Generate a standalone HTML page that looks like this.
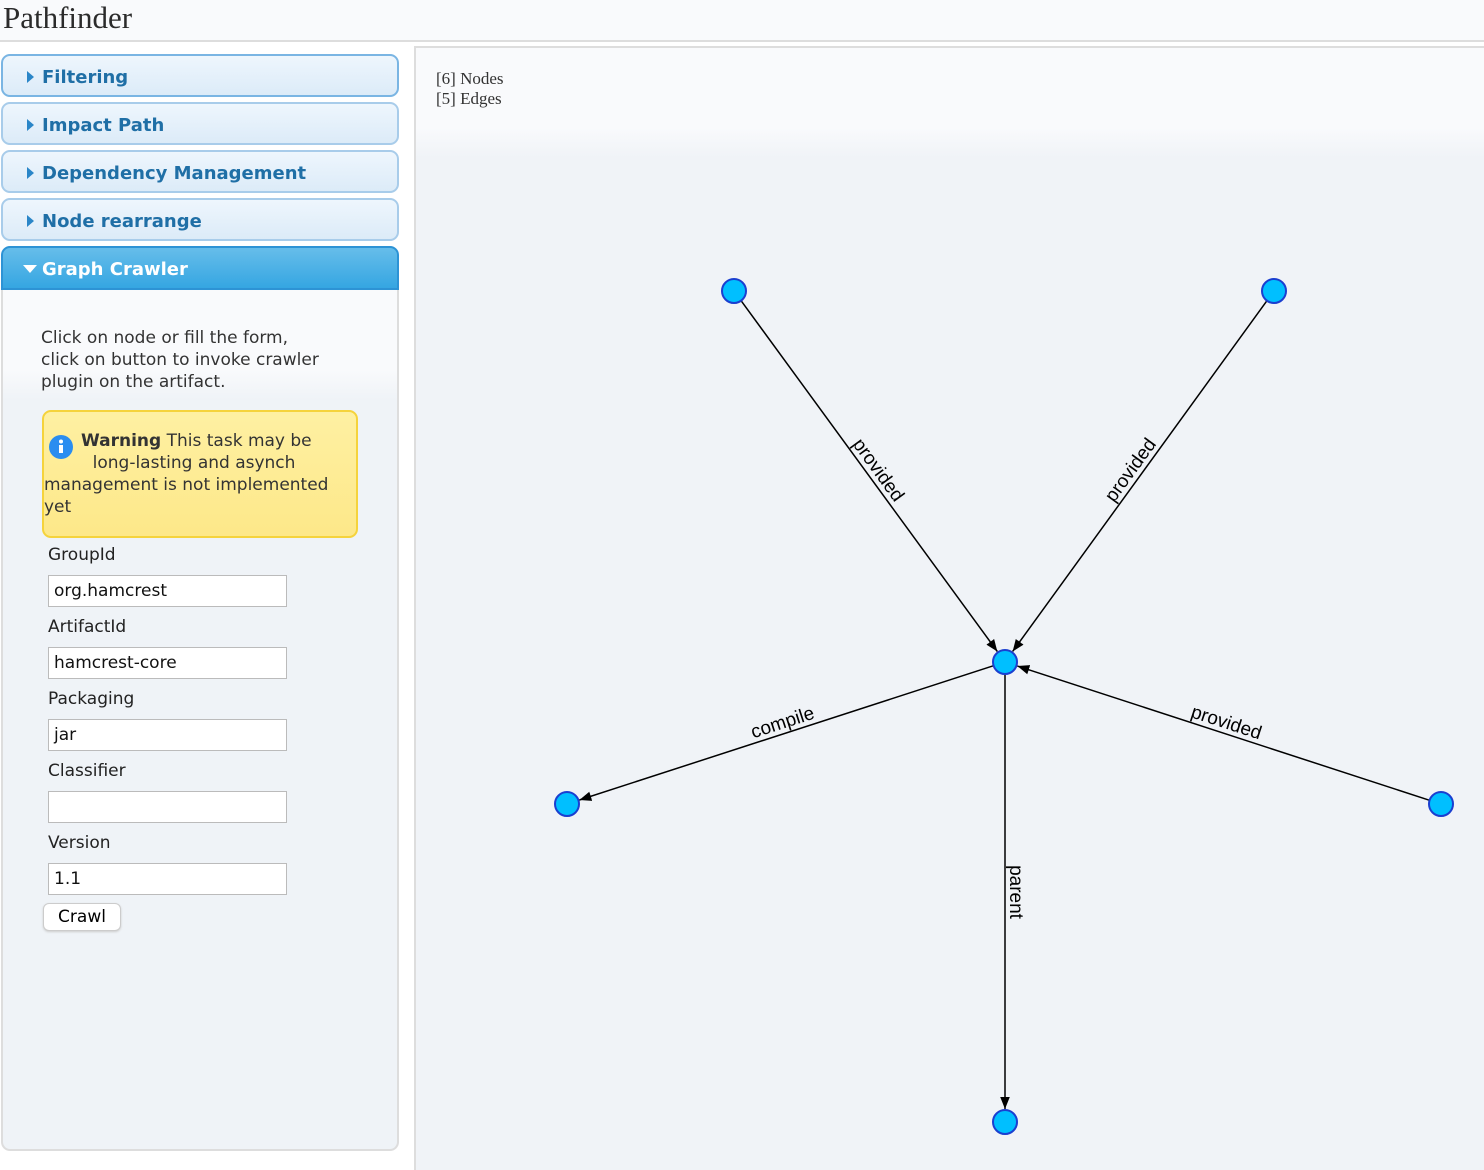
<!DOCTYPE html>
<html><head><meta charset="utf-8"><style>
body{margin:0;width:1484px;height:1170px;background:#fff;position:relative;overflow:hidden;font-family:"DejaVu Sans","Liberation Sans",sans-serif}
.abs{position:absolute}
#hdr{left:0;top:0;width:1484px;height:40px;background:#f9fafc;border-bottom:2px solid #ddd}
#title{left:3px;top:0;font:31px "Liberation Serif",serif;color:#2b2b2b;line-height:36px}
.acc{left:1px;width:398px;height:43px;border:2px solid #a8ccea;border-radius:9px;background:linear-gradient(#eef6fd,#dcebf8);box-sizing:border-box}
.acc span{position:absolute;left:39px;top:11px;font-weight:bold;font-size:18px;color:#1f6fa6}
.acc i{position:absolute;left:24px;top:15px;width:0;height:0;border-top:6px solid transparent;border-bottom:6px solid transparent;border-left:7px solid #2a86c8}
#f1{top:54px;border-color:#7ab5e3}
#gc{left:1px;top:246px;width:398px;height:44px;background:linear-gradient(#66bdea,#35a6e2);border:2px solid #2d93d5;border-radius:9px 9px 0 0;box-sizing:border-box}
#gc span{position:absolute;left:39px;top:11px;font-weight:bold;font-size:18px;color:#fff}
#gc i{position:absolute;left:20px;top:17px;border-left:7px solid transparent;border-right:7px solid transparent;border-top:8px solid #fff}
#panel{left:1px;top:290px;width:398px;height:861px;border:2px solid #ddd;border-top:none;border-radius:0 0 9px 9px;background:linear-gradient(#f9fafc 0,#f9fafc 80px,#eff3f7 110px,#eff3f7);box-sizing:border-box}
.t{font-size:17px;color:#333;line-height:22px}
#warn{left:42px;top:410px;width:316px;height:128px;border:2px solid #f5d33c;border-radius:9px;background:linear-gradient(#fef0a2,#fde889);box-sizing:border-box}
.lbl{left:48px;font-size:17px;color:#222}
.inp{left:48px;width:239px;height:32px;background:#fff;border:1px solid #bbb;box-sizing:border-box;font-size:17px;color:#111;padding:4px 5px;line-height:22px}
#crawl{left:43px;top:903px;width:78px;height:28px;border:1px solid #ccc;border-radius:6px;background:#fff;font-size:17px;text-align:center;line-height:26px;box-sizing:border-box;box-shadow:0 1px 2px #ccc}
#graph{left:414px;top:46px;width:1070px;height:1124px;border-left:2px solid #ddd;border-top:2px solid #ddd;background:linear-gradient(#f9fafc 0,#f9fafc 80px,#f0f3f7 110px,#f0f3f7);box-sizing:border-box}
#stats{left:436px;top:69px;font:17px "Liberation Serif",serif;color:#333;line-height:20px}
</style></head><body>
<div id="hdr" class="abs"></div>
<div id="title" class="abs">Pathfinder</div>
<div id="f1" class="abs acc"><i></i><span>Filtering</span></div>
<div class="abs acc" style="top:102px"><i></i><span>Impact Path</span></div>
<div class="abs acc" style="top:150px"><i></i><span>Dependency Management</span></div>
<div class="abs acc" style="top:198px"><i></i><span>Node rearrange</span></div>
<div id="gc" class="abs"><i></i><span>Graph Crawler</span></div>
<div id="panel" class="abs"></div>
<div class="abs t" style="left:41px;top:327px">Click on node or fill the form,<br>click on button to invoke crawler<br>plugin on the artifact.</div>
<div id="warn" class="abs">
<svg class="abs" style="left:4px;top:22px" width="26" height="26"><circle cx="13" cy="13" r="12" fill="#2a8df0"/><rect x="11" y="11" width="4" height="8" fill="#fff"/><circle cx="13" cy="7.5" r="2" fill="#fff"/></svg>
<div class="abs t" style="left:0;top:18px;width:310px;text-indent:37px"><b>Warning</b> This task may be<br>&nbsp;&nbsp;&nbsp;&nbsp;&nbsp;&nbsp;&nbsp;&nbsp;&nbsp;long-lasting and asynch</div>
<div class="abs t" style="left:0;top:62px">management is not implemented<br>yet</div>
</div>
<div class="abs lbl" style="top:545px">GroupId</div>
<div class="abs inp" style="top:575px">org.hamcrest</div>
<div class="abs lbl" style="top:617px">ArtifactId</div>
<div class="abs inp" style="top:647px">hamcrest-core</div>
<div class="abs lbl" style="top:689px">Packaging</div>
<div class="abs inp" style="top:719px">jar</div>
<div class="abs lbl" style="top:761px">Classifier</div>
<div class="abs inp" style="top:791px"></div>
<div class="abs lbl" style="top:833px">Version</div>
<div class="abs inp" style="top:863px">1.1</div>
<div id="crawl" class="abs">Crawl</div>
<div id="graph" class="abs"></div>
<div id="stats" class="abs">[6] Nodes<br>[5] Edges</div>
<svg id="g" class="abs" style="left:0;top:0" width="1484" height="1170">
<defs><marker id="ar" viewBox="0 0 10 10" refX="10" refY="5" markerWidth="8" markerHeight="8" orient="auto"><path d="M0,1L10,5L0,9z" fill="#000"/></marker></defs>
</svg>
<script>
const nodeNames=['center','top-left','top-right','left','right','bottom'];
const nodeX=[1005,734,1274,567,1441,1005];
const nodeY=[662,291,291,804,804,1122];
const edgeFrom=[1,2,0,4,0];
const edgeTo=[0,0,3,0,5];
const edgeLabels=['provided','provided','compile','provided','parent'];
const NS='http://www.w3.org/2000/svg',svg=document.getElementById('g'),R=12;
for(let i=0;i<edgeFrom.length;i++){
 const a=edgeFrom[i],b=edgeTo[i];
 const x1=nodeX[a],y1=nodeY[a],x2=nodeX[b],y2=nodeY[b];
 const d=Math.hypot(x2-x1,y2-y1),ux=(x2-x1)/d,uy=(y2-y1)/d;
 const l=document.createElementNS(NS,'line');
 l.setAttribute('x1',x1+ux*R);l.setAttribute('y1',y1+uy*R);
 l.setAttribute('x2',x2-ux*(R+1));l.setAttribute('y2',y2-uy*(R+1));
 l.setAttribute('stroke','#000');l.setAttribute('stroke-width','1.5');l.setAttribute('marker-end','url(#ar)');
 
 
 svg.appendChild(l);
 let ang=Math.atan2(y2-y1,x2-x1)*180/Math.PI;
 if(ang>90)ang-=180;if(ang<-90)ang+=180;
 const r=ang*Math.PI/180;
 const mx=(x1+x2)/2+Math.sin(r)*5,my=(y1+y2)/2-Math.cos(r)*5;
 const t=document.createElementNS(NS,'text');
 t.setAttribute('x',mx);t.setAttribute('y',my);
 t.setAttribute('text-anchor','middle');t.setAttribute('font-size','19');
 t.setAttribute('font-family','Liberation Sans, sans-serif');
 t.setAttribute('transform','rotate('+ang+' '+mx+' '+my+')');
 t.textContent=edgeLabels[i];
 
 
 svg.appendChild(t);
}
for(let i=0;i<nodeX.length;i++){
 const c=document.createElementNS(NS,'circle');
 c.setAttribute('cx',nodeX[i]);c.setAttribute('cy',nodeY[i]);c.setAttribute('r',R);
 c.setAttribute('fill','#00bfff');c.setAttribute('stroke','#1a3fd0');c.setAttribute('stroke-width','2');
 
 
 svg.appendChild(c);
}
</script>
</body></html>
